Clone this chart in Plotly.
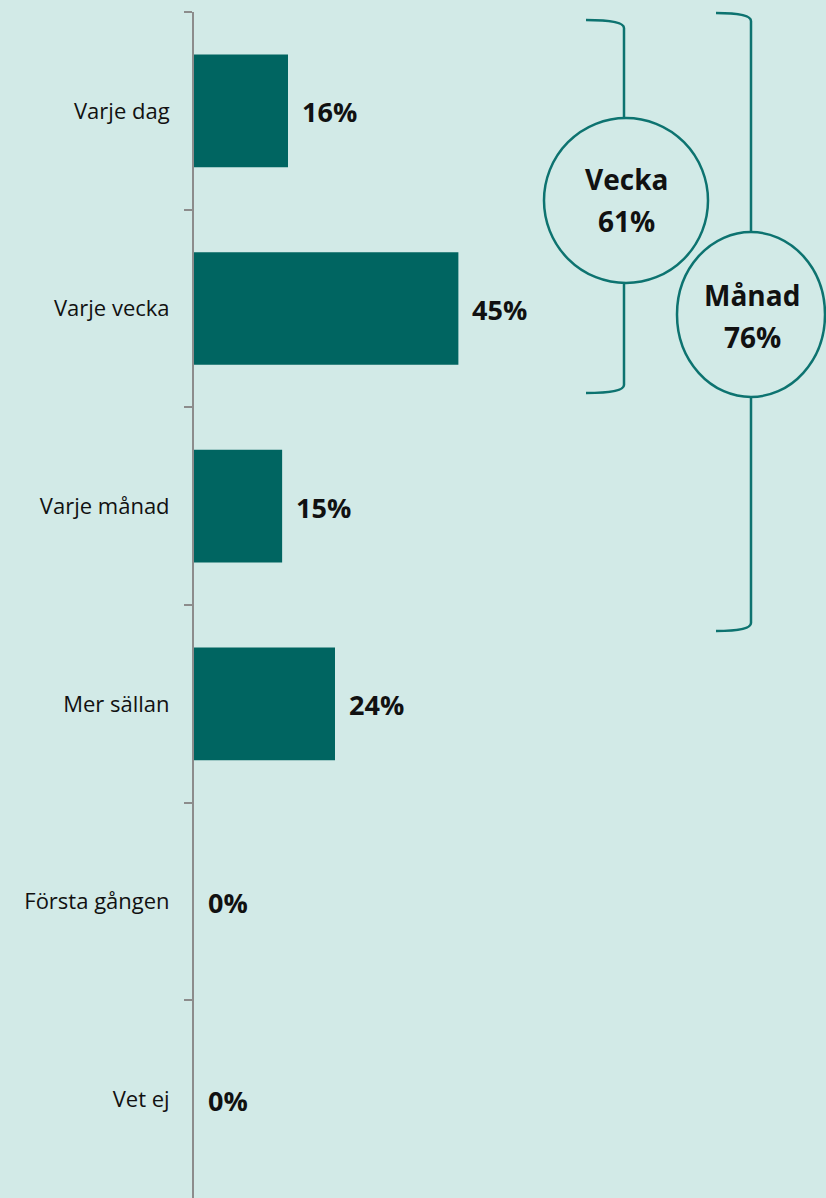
import plotly.graph_objects as go

categories = ["Varje dag", "Varje vecka", "Varje månad", "Mer sällan", "Första gången", "Vet ej"]
values = [16, 45, 15, 24, 0, 0]
labels = ["16%", "45%", "15%", "24%", "0%", "0%"]
groups = [("Vecka", "61%"), ("Månad", "76%")]

W, H = 826, 1198
ML, MT, MB, MR = 194, 12, 0, 0
PW, PH = W - ML - MR, H - MT - MB
BG = "#d2eae7"
BAR = "#006561"
LINE = "#0d7370"
FONT = "'Open Sans', Calibri, Carlito, sans-serif"


def px(x):
    return (x - ML) / PW


def py(y):
    return 1 - (y - MT) / PH


fig = go.Figure()
fig.add_trace(go.Bar(
    x=values, y=categories, orientation="h",
    marker=dict(color=BAR, line=dict(width=0)),
    hoverinfo="skip",
))

for v, c, t in zip(values, categories, labels):
    fig.add_annotation(x=v, y=c, text="<b>%s</b>" % t, showarrow=False,
                       xanchor="left", xshift=12, yshift=-1,
                       font=dict(family=FONT, size=27, color="#111111"))

shapes = []
# Vecka bracket
vx = 624
shapes.append(dict(type="path", xref="paper", yref="paper",
                   path=f"M {px(586)},{py(20)} Q {px(vx)},{py(20)} {px(vx)},{py(28)} L {px(vx)},{py(118)}",
                   line=dict(color=LINE, width=2.5)))
shapes.append(dict(type="path", xref="paper", yref="paper",
                   path=f"M {px(vx)},{py(283)} L {px(vx)},{py(385)} Q {px(vx)},{py(393)} {px(586)},{py(393)}",
                   line=dict(color=LINE, width=2.5)))
shapes.append(dict(type="circle", xref="paper", yref="paper",
                   x0=px(544), x1=px(708), y0=py(118), y1=py(283),
                   line=dict(color=LINE, width=2.5), fillcolor="rgba(0,0,0,0)"))
# Månad bracket
mx = 751
shapes.append(dict(type="path", xref="paper", yref="paper",
                   path=f"M {px(716)},{py(13)} Q {px(mx)},{py(13)} {px(mx)},{py(21)} L {px(mx)},{py(232)}",
                   line=dict(color=LINE, width=2.5)))
shapes.append(dict(type="path", xref="paper", yref="paper",
                   path=f"M {px(mx)},{py(397)} L {px(mx)},{py(623)} Q {px(mx)},{py(631)} {px(716)},{py(631)}",
                   line=dict(color=LINE, width=2.5)))
shapes.append(dict(type="circle", xref="paper", yref="paper",
                   x0=px(677), x1=px(825), y0=py(232), y1=py(397),
                   line=dict(color=LINE, width=2.5), fillcolor="rgba(0,0,0,0)"))

centers = [(626, 200), (752, 316)]
for (name, pct), (cx, cy) in zip(groups, centers):
    for txt, dy in ((name, -21), (pct, 21)):
        fig.add_annotation(xref="paper", yref="paper", x=px(cx), y=py(cy + dy),
                           text=f"<b>{txt}</b>", showarrow=False,
                           xanchor="center", yanchor="middle", align="center",
                           font=dict(family=FONT, size=28, color="#111111"))

fig.update_layout(
    width=W, height=H,
    margin=dict(l=ML, r=MR, t=MT, b=MB, pad=0),
    paper_bgcolor=BG, plot_bgcolor=BG,
    showlegend=False,
    bargap=0.43,
    shapes=shapes,
    xaxis=dict(range=[0, PW / 5.875], visible=False, fixedrange=True),
    yaxis=dict(autorange="reversed", showline=True, linecolor="#8c8c8c", linewidth=2,
               ticks="outside", tickson="boundaries", ticklen=8, tickcolor="#8c8c8c",
               tickwidth=2, showgrid=False, zeroline=False, fixedrange=True,
               tickfont=dict(family=FONT, size=22, color="#111111"), ticklabelstandoff=18),
)

fig.write_html("out.html", config={"displayModeBar": False},
               post_script="document.body.style.margin='0';document.body.style.background='%s';" % BG)
